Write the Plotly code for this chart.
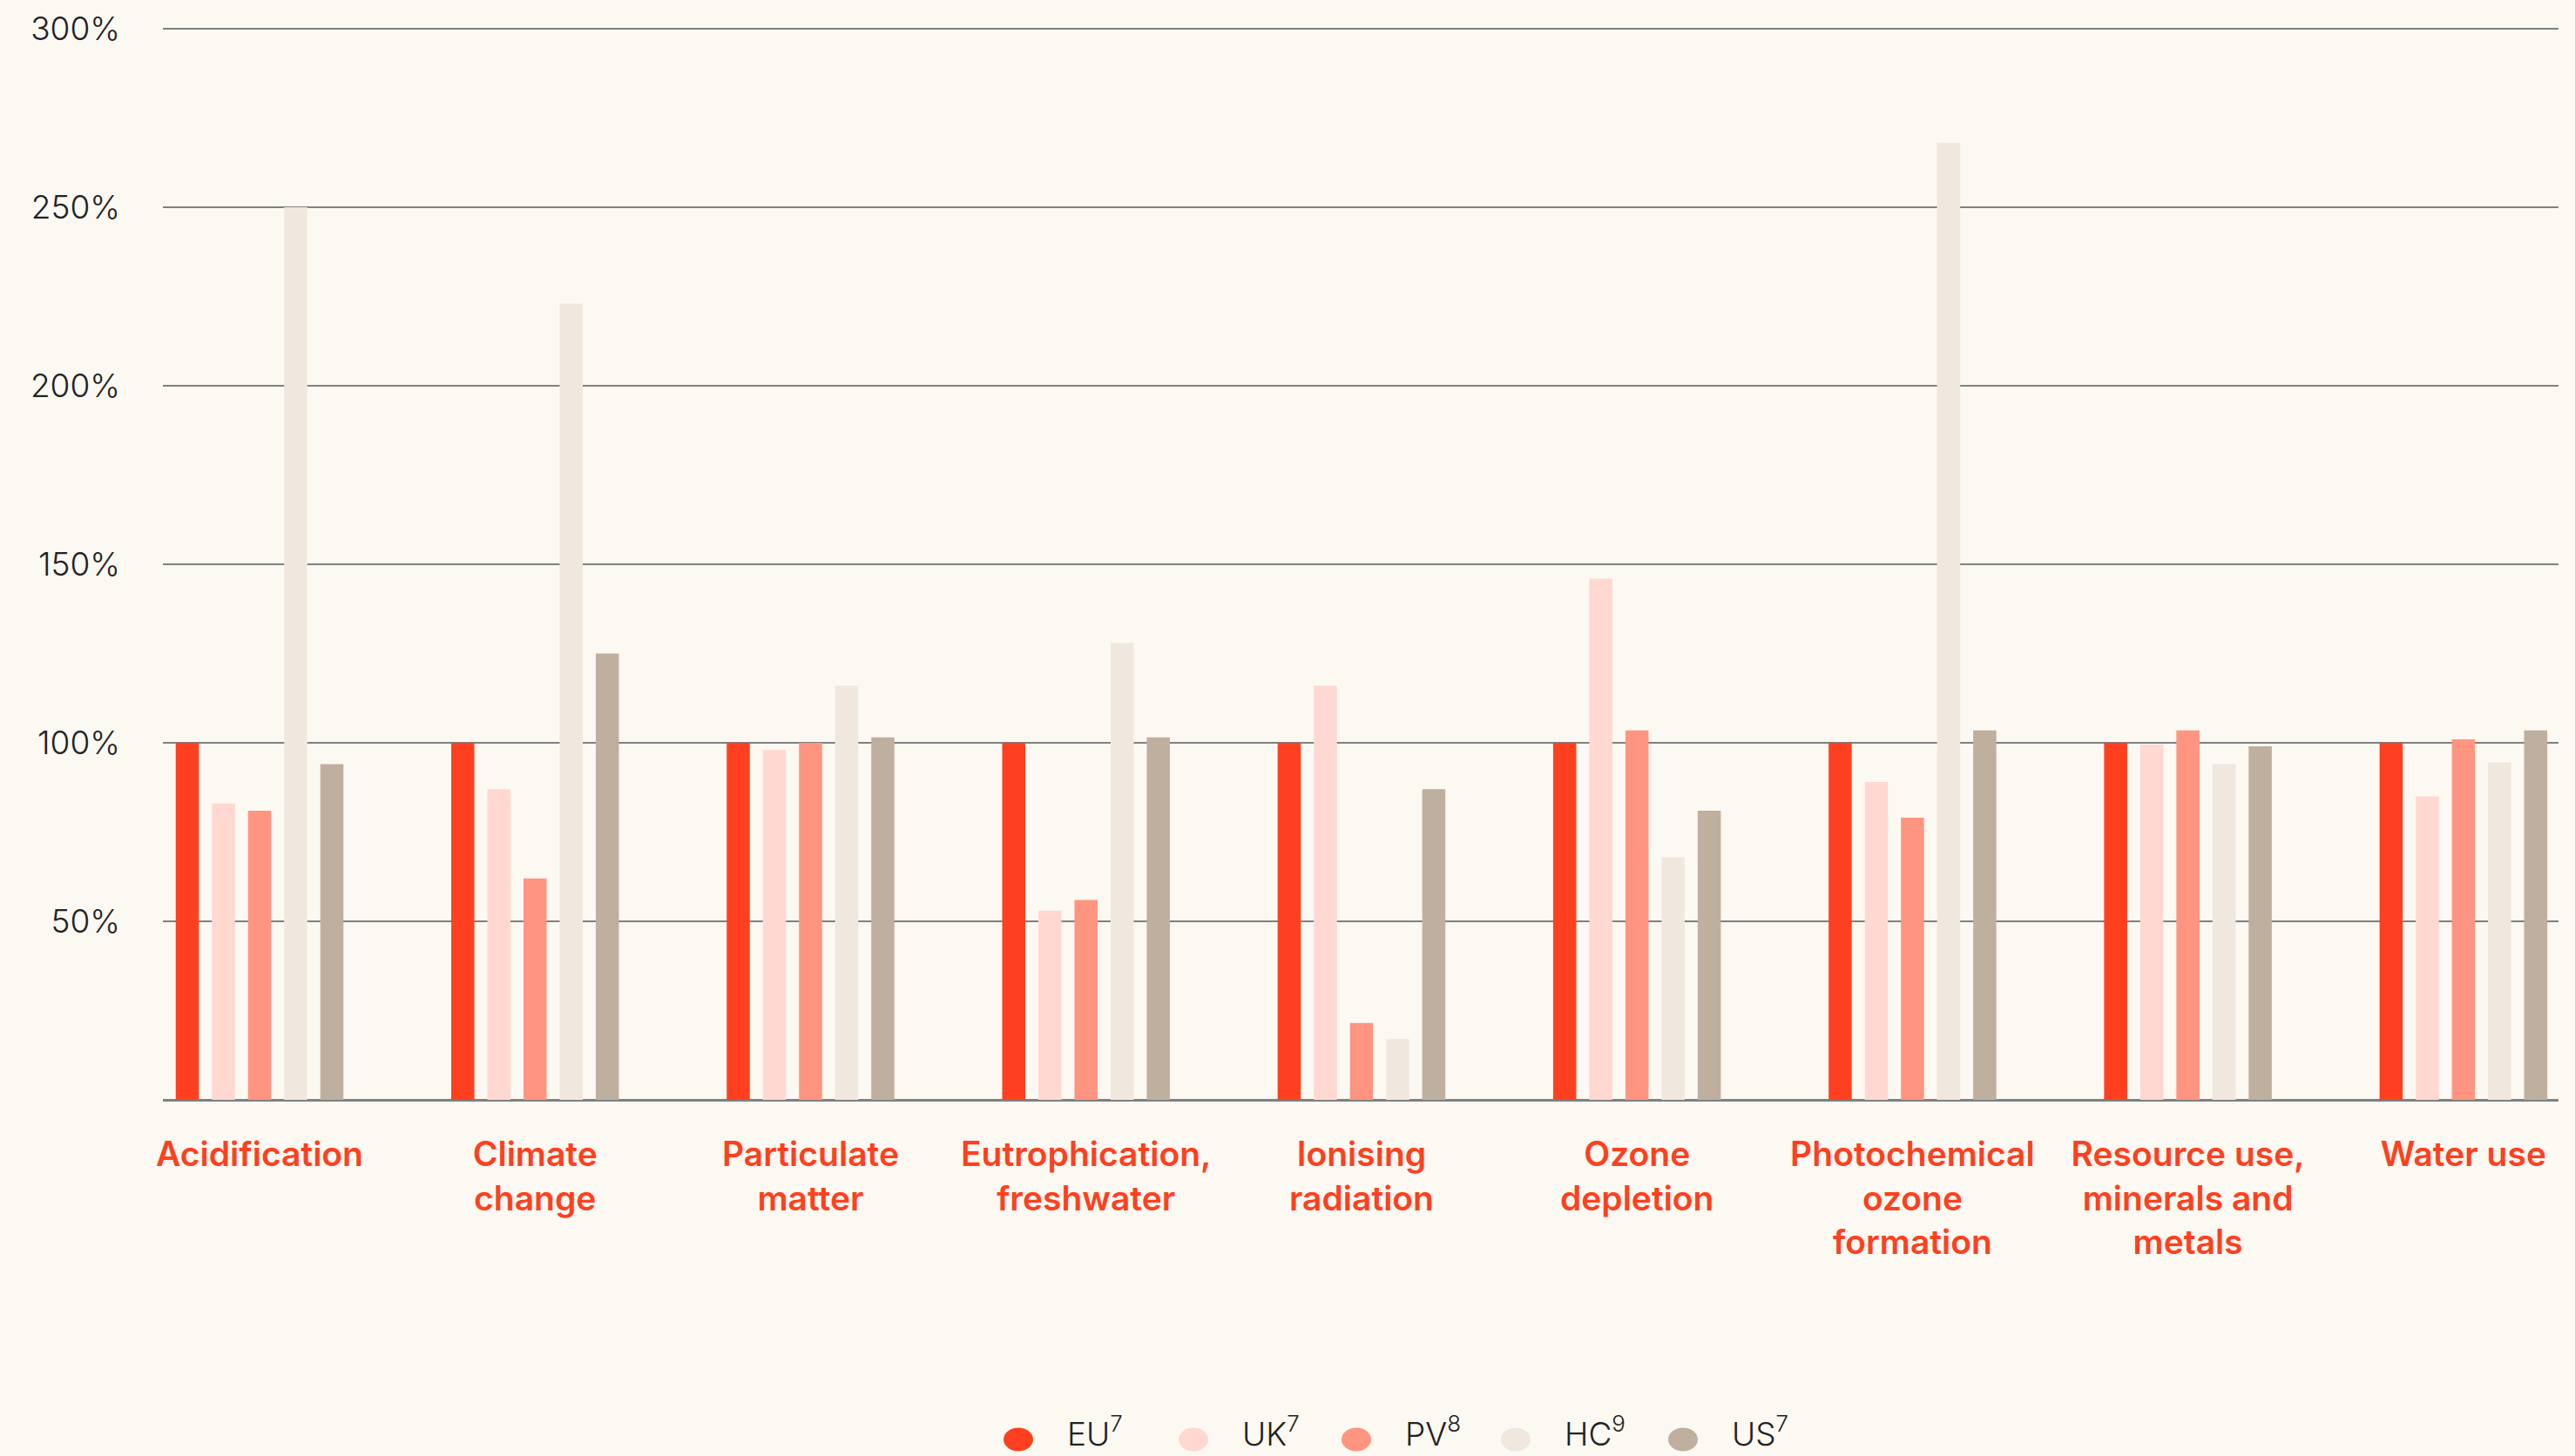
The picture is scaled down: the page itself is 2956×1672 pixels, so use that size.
import plotly.graph_objects as go

categories = ["Acidification", "Climate<br>change", "Particulate<br>matter",
              "Eutrophication,<br>freshwater", "Ionising<br>radiation", "Ozone<br>depletion",
              "Photochemical<br>ozone<br>formation", "Resource use,<br>minerals and<br>metals", "Water use"]
series_names = ["EU<sup>7</sup>", "UK<sup>7</sup>", "PV<sup>8</sup>", "HC<sup>9</sup>", "US<sup>7</sup>"]
eu = [100, 100, 100, 100, 100, 100, 100, 100, 100]
uk = [83, 87, 98, 53, 116, 146, 89, 99.5, 85]
pv = [81, 62, 100, 56, 21.5, 103.5, 79, 103.5, 101]
hc = [250, 223, 116, 128, 17, 68, 268, 94, 94.5]
us = [94, 125, 101.5, 101.5, 87, 81, 103.5, 99, 103.5]
y_ticks = [50, 100, 150, 200, 250, 300]
y_labels = ["50%", "100%", "150%", "200%", "250%", "300%"]

values = [eu, uk, pv, hc, us]
colors = ["#FF4020", "#FFD8D2", "#FF9580", "#F0E8DF", "#BFAF9F"]
bg = "#FCF9F2"

W, H = 2956, 1672
ML, MR, MT, MB = 187, 19, 31, 409
PW, PH = W - ML - MR, H - MT - MB


def px_x(p):
    return (p - ML) / PW


def px_y(p):
    return (H - MB - p) / PH


fig = go.Figure()
for name, vals, col in zip(series_names, values, colors):
    fig.add_trace(go.Bar(x=categories, y=vals, name=name, marker=dict(color=col, line=dict(width=0)),
                         showlegend=False))

# manual legend (ellipse swatches + labels)
leg_cx = [1169, 1370, 1557, 1740, 1932]
leg_cy = 1653
for cx, name, col in zip(leg_cx, series_names, colors):
    fig.add_shape(type="circle", xref="paper", yref="paper",
                  x0=px_x(cx - 17), x1=px_x(cx + 17), y0=px_y(leg_cy + 13.5), y1=px_y(leg_cy - 13.5),
                  fillcolor=col, line=dict(width=0), layer="above")
    fig.add_annotation(x=px_x(cx + 54), y=px_y(H - 1), xref="paper", yref="paper",
                       text=name, showarrow=False, xanchor="left", yanchor="bottom",
                       font=dict(family="Inter, Lato, sans-serif", size=37, color="#222222", weight=300))

fig.update_layout(
    width=W, height=H,
    paper_bgcolor=bg, plot_bgcolor=bg,
    margin=dict(l=ML, r=MR, t=MT, b=MB, autoexpand=False),
    barmode="group", bargap=0.344, bargroupgap=0.36,
    showlegend=False,
    xaxis=dict(type="category", range=[-0.351, 8.345], showgrid=False, ticks="",
               ticklabelstandoff=36, showline=False, automargin=False,
               tickfont=dict(family="Inter, Roboto, sans-serif", size=39,
                             color="#FF4020", weight=600)),
    yaxis=dict(range=[0, 300.5], tickvals=y_ticks, ticktext=y_labels, showgrid=True,
               gridcolor="#808080", gridwidth=2, zeroline=True, zerolinecolor="#808080",
               zerolinewidth=3, ticks="", ticklabelstandoff=48, automargin=False,
               tickfont=dict(family="Inter, Lato, sans-serif", size=37, color="#222222", weight=300)),
)

fig.write_html("out.html", config={"displayModeBar": False},
               post_script="document.body.style.margin='0';")
